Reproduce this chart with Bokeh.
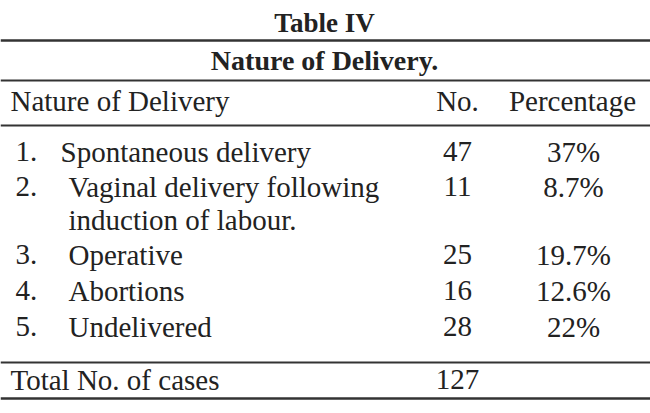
from bokeh.plotting import figure
from bokeh.models import Range1d
from bokeh.core.properties import value
from bokeh.embed import file_html
from bokeh.resources import INLINE

# ---- data ----
table_title = "Table IV"
table_subtitle = "Nature of Delivery."
col_headers = ["Nature of Delivery", "No.", "Percentage"]
item_numbers = ["1.", "2.", "3.", "4.", "5."]
categories = ["Spontaneous delivery",
              "Vaginal delivery following\ninduction of labour.",
              "Operative", "Abortions", "Undelivered"]
counts = [47, 11, 25, 16, 28]
percentages = ["37%", "8.7%", "19.7%", "12.6%", "22%"]
total_label = "Total No. of cases"
total_count = 127

# ---- layout (reference pixel coordinates) ----
W, H = 650, 413
row_y = [151, 186, 254, 290, 326]
line_gap = 33
cat_x = [60, 68, 68, 68, 68]
num_x = 15
count_x = 457
pct_x = 573
title_x = 324
rules_y = [40, 80, 125, 362, 398]
FONT = value("Liberation Serif")
INK = "#222222"

p = figure(width=W, height=H, output_backend="svg", toolbar_location=None,
           x_range=Range1d(0, W), y_range=Range1d(H, 0),
           min_border=0)
p.axis.visible = False
p.grid.visible = False
p.outline_line_color = None
p.background_fill_color = "white"
p.border_fill_color = "white"

# rules
p.segment(x0=[0] * len(rules_y), x1=[W] * len(rules_y), y0=rules_y, y1=rules_y,
          line_color="#333333", line_width=[2.5, 2, 2, 2, 2.5])

def txt(x, y, t, size="29px", align="left", style="normal"):
    p.text(x=x, y=y, text=t, text_font=FONT, text_font_size=size,
           text_font_style=style,
           text_color=INK, text_align=align, text_baseline="middle")

txt([title_x], [22], [table_title], size="27px", align="center", style="bold")
txt([title_x], [60], [table_subtitle], size="28px", align="center", style="bold")
txt([10], [100], [col_headers[0]])
txt([457], [100], [col_headers[1]], align="center")
txt([572], [100], [col_headers[2]], align="center")

# rows
nx, ny, cxs, cys, ctext = [], [], [], [], []
for i, cat in enumerate(categories):
    nx.append(num_x); ny.append(row_y[i])
    for j, line in enumerate(cat.split("\n")):
        cxs.append(cat_x[i]); cys.append(row_y[i] + j * line_gap); ctext.append(line)
txt(nx, ny, item_numbers)
txt(cxs, cys, ctext)
txt([count_x] * len(counts), row_y, [str(c) for c in counts], align="center")
txt([pct_x] * len(percentages), row_y, percentages, align="center")

txt([10], [379], [total_label])
txt([count_x], [379], [str(total_count)], align="center")

open("out.html", "w").write(file_html(p, INLINE))
